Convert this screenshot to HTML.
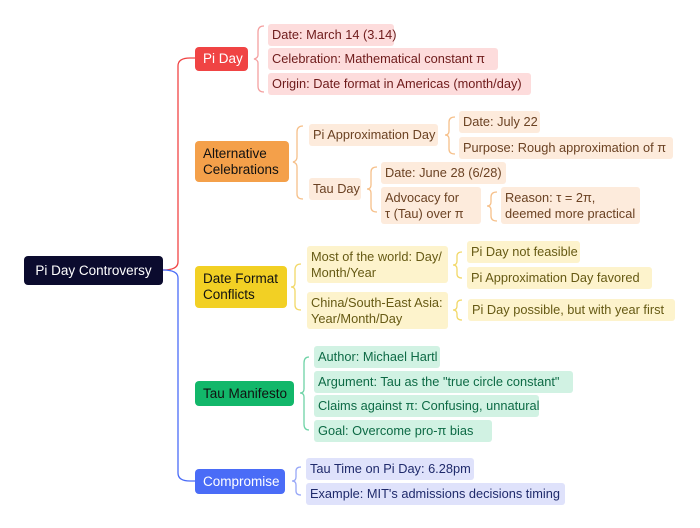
<!DOCTYPE html>
<html><head><meta charset="utf-8"><style>
body{margin:0;width:700px;height:528px;background:#fff;position:relative;overflow:hidden;font-family:"Liberation Sans","DejaVu Sans",sans-serif}
.n{position:absolute;box-sizing:border-box;border-radius:3px;font-size:12.8px;line-height:16px;padding:3px 4px;white-space:nowrap;height:22px}
.t{height:37px}
.m{position:absolute;box-sizing:border-box;border-radius:4px;font-size:13.5px;line-height:16px;padding:0 8px;display:flex;align-items:center;white-space:nowrap}
.r{background:#fddcdc;color:#6e1b1b}.o{background:#fdebdc;color:#6b4223}.y{background:#fdf3cc;color:#665a14}.g{background:#d1f2e3;color:#0d6a45}.b{background:#dfe2fb;color:#1f2a6b}
</style></head><body>
<svg width="700" height="528" style="position:absolute;left:0;top:0" fill="none" stroke-width="1.3">
<path d="M163 270 Q178 270 178 262 L178 66 Q178 58 190 58 L195 58" stroke="#f04444"/>
<path d="M163 270 Q178 270 178 278 L178 473 Q178 481 190 481 L195 481" stroke="#4a6cf7"/>
<g stroke="#f4a0a0"><path d="M264 26 Q258 26 258 32 L258 55 Q258 58 254 59 Q258 60 258 63 L258 86 Q258 92 264 92"/></g>
<g stroke="#f6c08a"><path d="M303 126 Q297 126 297 132 L297 157 Q297 161 293 162 Q297 163 297 167 L297 194 Q297 199 303 199"/>
<path d="M455 117 Q449 117 449 122 L449 131 Q449 135 445 135 Q449 135 449 139 L449 149 Q449 154 455 154"/>
<path d="M377 167 Q371 167 371 172 L371 185 Q371 189 367 189 Q371 189 371 193 L371 207 Q371 212 377 212"/>
<path d="M497 192 Q491 192 491 197 L491 202 Q491 206 487 206 Q491 206 491 210 L491 216 Q491 221 497 221"/></g>
<g stroke="#f2d868"><path d="M301 264 Q295 264 295 270 L295 283 Q295 287 291 287 Q295 287 295 291 L295 305 Q295 310 301 310"/>
<path d="M462 252 Q457 252 457 256 L457 261 Q457 265 453 265 Q457 265 457 269 L457 274 Q457 278 462 278"/>
<path d="M462 300 Q457 300 457 304 L457 306 Q457 310 453 310 Q457 310 457 314 L457 316 Q457 320 462 320"/></g>
<g stroke="#6ed3a6"><path d="M309 357 Q304 357 304 363 L304 389 Q304 393 300 393 Q304 393 304 397 L304 424 Q304 430 309 430"/></g>
<g stroke="#98a8f7"><path d="M301 467 Q296 467 296 471 L296 477 Q296 481 292 481 Q296 481 296 485 L296 491 Q296 495 301 495"/></g>
</svg>
<div class="m" style="left:24px;top:256px;width:139px;height:29px;background:#0b0b2e;color:#fff;justify-content:center">Pi Day Controversy</div>
<div class="m" style="left:195px;top:47px;width:53px;height:24px;background:#f04444;color:#fff">Pi Day</div>
<div class="n r" style="left:268px;top:24px;width:126px">Date: March 14 (3.14)</div>
<div class="n r" style="left:268px;top:48px;width:230px">Celebration: Mathematical constant π</div>
<div class="n r" style="left:268px;top:73px;width:263px">Origin: Date format in Americas (month/day)</div>
<div class="m" style="left:195px;top:141px;width:94px;height:41px;background:#f4a04a;color:#111">Alternative<br>Celebrations</div>
<div class="n o" style="left:309px;top:124px;width:129px">Pi Approximation Day</div>
<div class="n o" style="left:459px;top:111px;width:81px">Date: July 22</div>
<div class="n o" style="left:459px;top:137px;width:214px">Purpose: Rough approximation of π</div>
<div class="n o" style="left:309px;top:178px;width:52px">Tau Day</div>
<div class="n o" style="left:381px;top:162px;width:125px">Date: June 28 (6/28)</div>
<div class="n o t" style="left:381px;top:187px;width:100px">Advocacy for<br>τ (Tau) over π</div>
<div class="n o t" style="left:501px;top:187px;width:139px">Reason: τ = 2π,<br>deemed more practical</div>
<div class="m" style="left:195px;top:266px;width:92px;height:42px;background:#f2d024;color:#111">Date Format<br>Conflicts</div>
<div class="n y t" style="left:307px;top:246px;width:141px">Most of the world: Day/<br>Month/Year</div>
<div class="n y t" style="left:307px;top:292px;width:141px">China/South-East Asia:<br>Year/Month/Day</div>
<div class="n y" style="left:467px;top:241px;width:113px">Pi Day not feasible</div>
<div class="n y" style="left:467px;top:267px;width:185px">Pi Approximation Day favored</div>
<div class="n y" style="left:468px;top:299px;width:207px">Pi Day possible, but with year first</div>
<div class="m" style="left:195px;top:381px;width:99px;height:25px;background:#12b76a;color:#111">Tau Manifesto</div>
<div class="n g" style="left:314px;top:346px;width:126px">Author: Michael Hartl</div>
<div class="n g" style="left:314px;top:371px;width:259px">Argument: Tau as the "true circle constant"</div>
<div class="n g" style="left:314px;top:395px;width:225px">Claims against π: Confusing, unnatural</div>
<div class="n g" style="left:314px;top:420px;width:178px">Goal: Overcome pro-π bias</div>
<div class="m" style="left:195px;top:469px;width:90px;height:25px;background:#4a6cf7;color:#fff">Compromise</div>
<div class="n b" style="left:306px;top:458px;width:168px">Tau Time on Pi Day: 6.28pm</div>
<div class="n b" style="left:306px;top:483px;width:259px">Example: MIT's admissions decisions timing</div>
</body></html>
